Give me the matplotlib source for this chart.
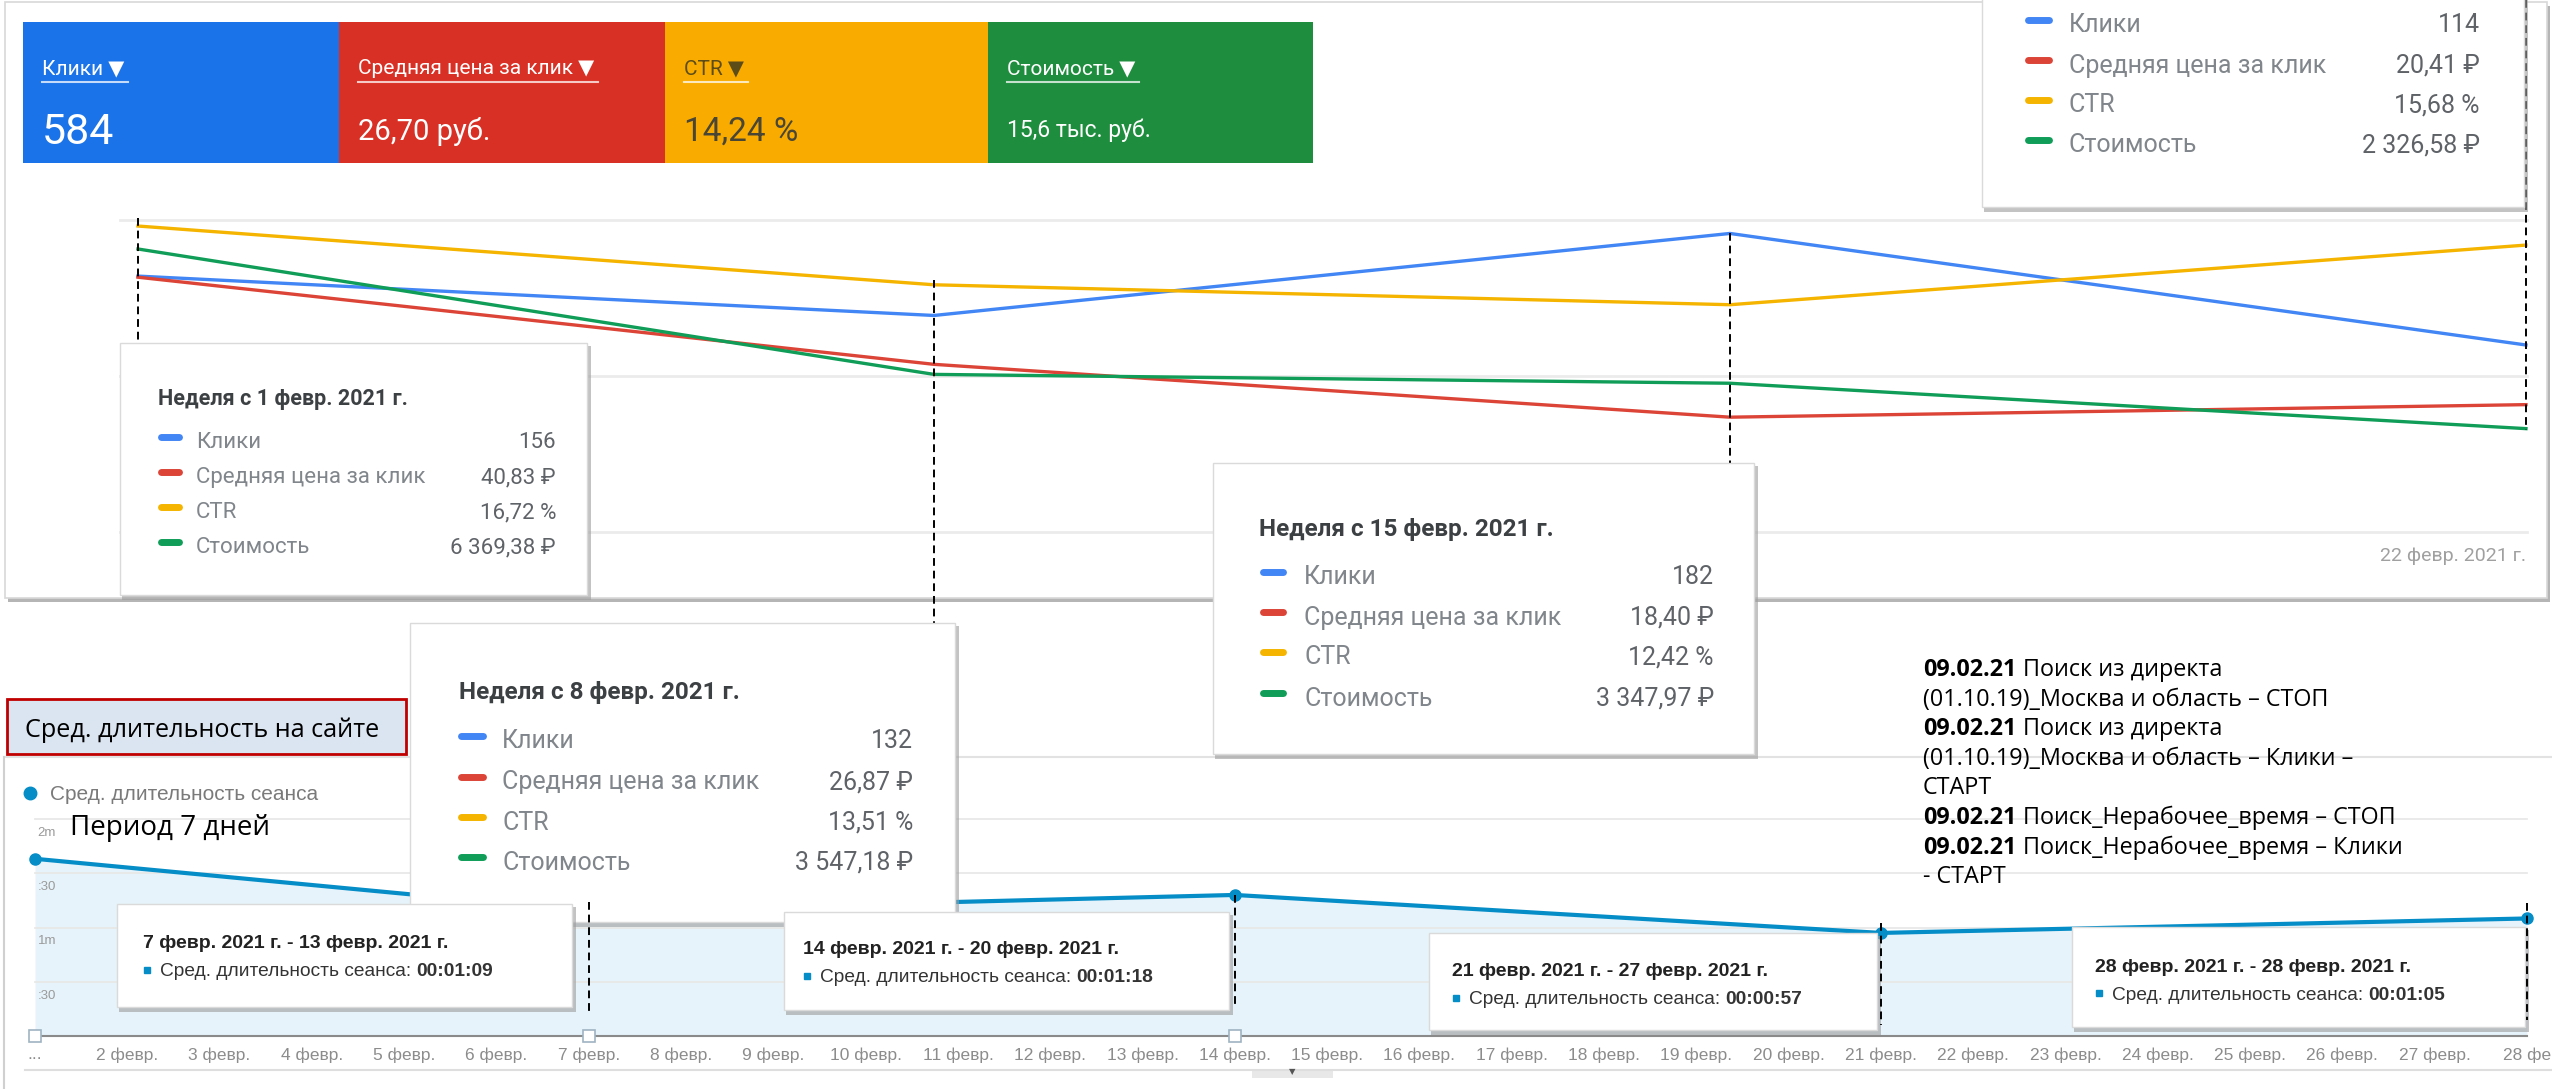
import matplotlib
matplotlib.use('Agg')
import matplotlib.pyplot as plt
from matplotlib.patches import Rectangle
from matplotlib.transforms import blended_transform_factory as blend

W, H = 2552, 1089

# Google Ads, weekly
weeks = [0, 1, 2, 3]
week_titles = ['Неделя с 1 февр. 2021 г.', 'Неделя с 8 февр. 2021 г.',
               'Неделя с 15 февр. 2021 г.', 'Неделя с 22 февр. 2021 г.']
last_week_label = '22 февр. 2021 г.'
metric_names = ['Клики', 'Средняя цена за клик', 'CTR', 'Стоимость']
clicks = [156, 132, 182, 114]
cpc = [40.83, 26.87, 18.40, 20.41]
ctr = [16.72, 13.51, 12.42, 15.68]
cost = [6369.38, 3547.18, 3347.97, 2326.58]
total_ctr = 14.24

# Google Analytics, avg session duration in seconds
ga_days = [1, 7, 14, 21, 28]
ga_secs = [98, 69, 78, 57, 65]
ga_ranges = ['', '7 февр. 2021 г. - 13 февр. 2021 г.', '14 февр. 2021 г. - 20 февр. 2021 г.',
             '21 февр. 2021 г. - 27 февр. 2021 г.', '28 февр. 2021 г. - 28 февр. 2021 г.']
annot_days = [1, 7, 14]
day_labels = ['...'] + [f'{d} февр.' for d in range(2, 28)] + ['28 фе']
ga_yticks = [30, 60, 90, 120]
ga_ylabels = [':30', '1m', ':30', '2m']

notes = [('09.02.21', 'Поиск из директа'),
         ('', '(01.10.19)_Москва и область – СТОП'),
         ('09.02.21', 'Поиск из директа'),
         ('', '(01.10.19)_Москва и область – Клики –'),
         ('', 'СТАРТ'),
         ('09.02.21', 'Поиск_Нерабочее_время – СТОП'),
         ('09.02.21', 'Поиск_Нерабочее_время – Клики'),
         ('', '- СТАРТ')]

ROB = ['Roboto', 'DejaVu Sans']
ARI = ['Liberation Sans', 'DejaVu Sans']
CAL = ['Open Sans', 'DejaVu Sans']
line_cols = ['#4285f4', '#db4437', '#f4b400', '#0f9d58']
tile_cols = ['#1a73e8', '#d93025', '#f9ab00', '#1e8e3e']
GA = '#058dc7'


def rub(v):
    return f'{v:,.2f}'.replace(',', ' ').replace('.', ',') + ' ₽'


def pct(v):
    return f'{v:.2f}'.replace('.', ',') + ' %'


def mmss(s):
    return f'00:{s // 60:02d}:{s % 60:02d}'


def rect_px(x0, y0, x1, y1):
    return [x0 / W, 1 - y1 / H, (x1 - x0) / W, (y1 - y0) / H]


def px_axes(z):
    a = fig.add_axes([0, 0, 1, 1], zorder=z)
    a.set_xlim(0, W)
    a.set_ylim(H, 0)
    a.axis('off')
    a.patch.set_visible(False)
    return a


fig = plt.figure(figsize=(W / 100, H / 100), dpi=100)
rend = fig.canvas.get_renderer()
bg = px_axes(0)

# top panel
bg.add_patch(Rectangle((8, 6), 2542, 596, fc='#b5b5b5', ec='none'))
bg.add_patch(Rectangle((5, 2), 2542, 596, fc='white', ec='#d8d8d8', lw=1.2))

# summary tiles
tx = [23, 339, 665, 988, 1313]
tot_clicks = sum(clicks)
tot_cost = sum(cost)
tile_vals = [f'{tot_clicks}', f'{tot_cost / tot_clicks:.2f}'.replace('.', ',') + ' руб.',
             pct(total_ctr), f'{tot_cost / 1000:.1f}'.replace('.', ',') + ' тыс. руб.']
val_fs = [31, 21, 24, 16.5]
for i in range(4):
    bg.add_patch(Rectangle((tx[i], 22), tx[i + 1] - tx[i], 141, fc=tile_cols[i], ec='none'))
    fg = '#5c4c18' if i == 2 else 'white'
    t = bg.text(tx[i] + 19, 67, metric_names[i] + ' ▼', color=fg, fontsize=15,
                family=ROB, va='center_baseline')
    w = t.get_window_extent(rend).width
    bg.plot([tx[i] + 19, tx[i] + 19 + w + 4], [82, 82], color='white', alpha=0.75, lw=1.5)
    bg.text(tx[i] + 19, 128, tile_vals[i], color='#4a4636' if i == 2 else 'white',
            fontsize=val_fs[i], family=ROB, va='center_baseline')

# bottom panel frame
bg.plot([4, W], [757, 757], color='#e2e2e2', lw=1.5)
bg.plot([4, 4], [757, H], color='#d0d0d0', lw=1.5)
bg.plot([25, W], [1070, 1070], color='#dedede', lw=1.5)
bg.add_patch(Rectangle((1252, 1070), 81, 8, fc='#e8e8e8', ec='none'))
bg.text(1292, 1072, '▼', fontsize=6, color='#555', ha='center', va='center')

# top chart: one scale per metric, zero on the bottom gridline
series = [clicks, cpc, ctr, cost]
tops = [190.2, 50, 17.05, 7022]
ax = fig.add_axes(rect_px(120, 220, 2527, 532), zorder=1)
axes = [ax]
for k in range(3):
    axes.append(ax.twinx())
for a, vals, top, col in zip(axes, series, tops, line_cols):
    a.set_xlim(-0.0226, 3.0013)
    a.set_ylim(0, top)
    a.patch.set_visible(False)
    for s in a.spines.values():
        s.set_visible(False)
    a.set_yticks([])
    a.plot(weeks, vals, color=col, lw=2.4, clip_on=False)
for fr in [0, 0.5, 1]:
    ax.axhline(fr * tops[0], color='#ebebeb', lw=2, clip_on=False, zorder=0)
ax.set_xticks([3])
ax.set_xticklabels([last_week_label], ha='right', fontsize=14, color='#a0a0a0', family=ROB)
ax.tick_params(axis='x', length=0, pad=11)

# bottom chart
axb = fig.add_axes(rect_px(35, 819, 2527, 1036), zorder=1)
axb.set_xlim(1, 28)
axb.set_ylim(0, 120)
axb.patch.set_visible(False)
for s in axb.spines.values():
    s.set_visible(False)
axb.fill_between(ga_days, ga_secs, 0, color='#e6f3fa', lw=0)
for v in ga_yticks:
    axb.axhline(v, color='#e8e8e8', lw=1.3, clip_on=False)
for v, lab in zip(ga_yticks, ga_ylabels):
    axb.annotate(lab, xy=(0, v), xycoords=('axes fraction', 'data'), xytext=(2, -10),
                 textcoords='offset points', va='center', fontsize=9.5, color='#9a9a9a', family=ARI)
axb.axhline(0, color='#8a8a8a', lw=1.5, clip_on=False)
axb.plot(ga_days, ga_secs, color=GA, lw=3, marker='o', ms=8, clip_on=False, zorder=4)
axb.plot(annot_days, [0] * len(annot_days), ls='none', marker='s', ms=9, mfc='white',
         mec='#9fb3c2', mew=1.2, clip_on=False, zorder=5)
axb.set_yticks([])
axb.set_xticks(range(1, 29))
axb.set_xticklabels(day_labels, fontsize=12.5, color='#8c8c8c', family=ARI)
axb.tick_params(axis='x', length=0, pad=8)

ov = px_axes(3)


def tip(x0, y0, x1, y1, z):
    ov.add_patch(Rectangle((x0 + 2, y0 + 3), x1 - x0 + 2, y1 - y0 + 2, fc='#9c9c9c',
                           ec='none', alpha=0.6, zorder=z))
    ov.add_patch(Rectangle((x0, y0), x1 - x0, y1 - y0, fc='white', ec='#dadada', lw=1, zorder=z + 0.1))


def ads_tip(i, box, title_xy, rows, mx, lx, vx, fs, tfs, z):
    tip(*box, z)
    if title_xy:
        ov.text(*title_xy, week_titles[i], fontsize=tfs, weight='bold', color='#3c4043',
                family=ROB, va='center_baseline', zorder=z + 0.2)
    vals = [str(clicks[i]), rub(cpc[i]), pct(ctr[i]), rub(cost[i])]
    for y, name, col, val in zip(rows, metric_names, line_cols, vals):
        ov.plot([mx[0], mx[1]], [y - 3, y - 3], color=col, lw=5, solid_capstyle='round', zorder=z + 0.2)
        ov.text(lx, y, name, fontsize=fs, color='#80868b', family=ROB, va='center_baseline', zorder=z + 0.2)
        ov.text(vx, y, val, fontsize=fs, color='#5f6368', family=ROB, ha='right',
                va='center_baseline', zorder=z + 0.2)


def mixed(x, y, parts, z, **kw):
    for txt, wt in parts:
        if not txt:
            continue
        t = ov.text(x, y, txt, weight=wt, zorder=z, va='center_baseline', **kw)
        x += t.get_window_extent(rend).width + kw['fontsize'] * 100 / 72 * 0.27


def ga_tip(i, box, tx0, ty, z):
    tip(*box, z)
    ov.text(tx0, ty, ga_ranges[i], fontsize=14, weight='bold', color='#222', family=ARI,
            va='center_baseline', zorder=z + 0.2)
    ov.plot(tx0 + 4, ty + 28, 's', color=GA, ms=5, zorder=z + 0.2)
    mixed(tx0 + 17, ty + 28, [('Сред. длительность сеанса:', 'normal'), (mmss(ga_secs[i]), 'bold')],
          z + 0.2, fontsize=13.8, color='#333', family=ARI)


# dashed guides
tr = blend(ax.transData, ov.transData)
for w, y0, y1 in zip(weeks, [218, 280, 233, 0], [342, 623, 463, 430]):
    ov.plot([w, w], [y0, y1], transform=tr, color='black', lw=1.4, dashes=(4, 2.5), zorder=1)
trb = blend(axb.transData, ov.transData)
for d, y0, y1 in zip(ga_days[1:], [902, 895, 923, 903], [1015, 1005, 1025, 1020]):
    ov.plot([d, d], [y0, y1], transform=trb, color='black', lw=1.4, dashes=(4, 2.5), zorder=9)

ads_tip(0, (120, 343, 587, 595), (158, 397), [440, 475, 510, 545], (161, 179), 196, 556, 16, 15.5, 2)
ads_tip(3, (1982, -20, 2524, 207), None, [23, 63, 103, 143], (2028, 2049), 2069, 2480, 18, 17, 2)
ads_tip(2, (1213, 463, 1754, 754), (1259, 527), [575, 615, 655, 696], (1263, 1283), 1304, 1714, 18, 17.5, 3)
ads_tip(1, (410, 623, 955, 922), (459, 690), [739, 780, 820, 860], (461, 483), 502, 913, 18, 17.5, 4)

ga_tip(1, (117, 904, 572, 1007), 143, 942, 6)
ga_tip(2, (784, 912, 1229, 1010), 803, 948, 6)
ga_tip(3, (1429, 933, 1877, 1030), 1452, 970, 6)
ga_tip(4, (2072, 927, 2525, 1027), 2095, 965, 6)

# GA legend and captions
ov.plot(30, 793, 'o', color=GA, ms=9, zorder=5)
ov.text(50, 793, 'Сред. длительность сеанса', fontsize=15, color='#7a7a7a', family=ARI,
        va='center_baseline', zorder=5)
ov.text(70, 825, 'Период 7 дней', fontsize=20, color='black', family=CAL, va='center_baseline', zorder=5)
ov.add_patch(Rectangle((7, 699), 399, 55, fc='#dbe5f1', ec='#c00000', lw=2, zorder=5))
ov.text(25, 727, 'Сред. длительность на сайте', fontsize=18.2, color='black', family=CAL,
        va='center_baseline', zorder=5.1)

for k, (b, r) in enumerate(notes):
    mixed(1923, 667 + 29.6 * k, [(b, 'bold'), (r, 'normal')], 5, fontsize=16.8, color='black', family=CAL)

fig.savefig('out.png', dpi=100)
